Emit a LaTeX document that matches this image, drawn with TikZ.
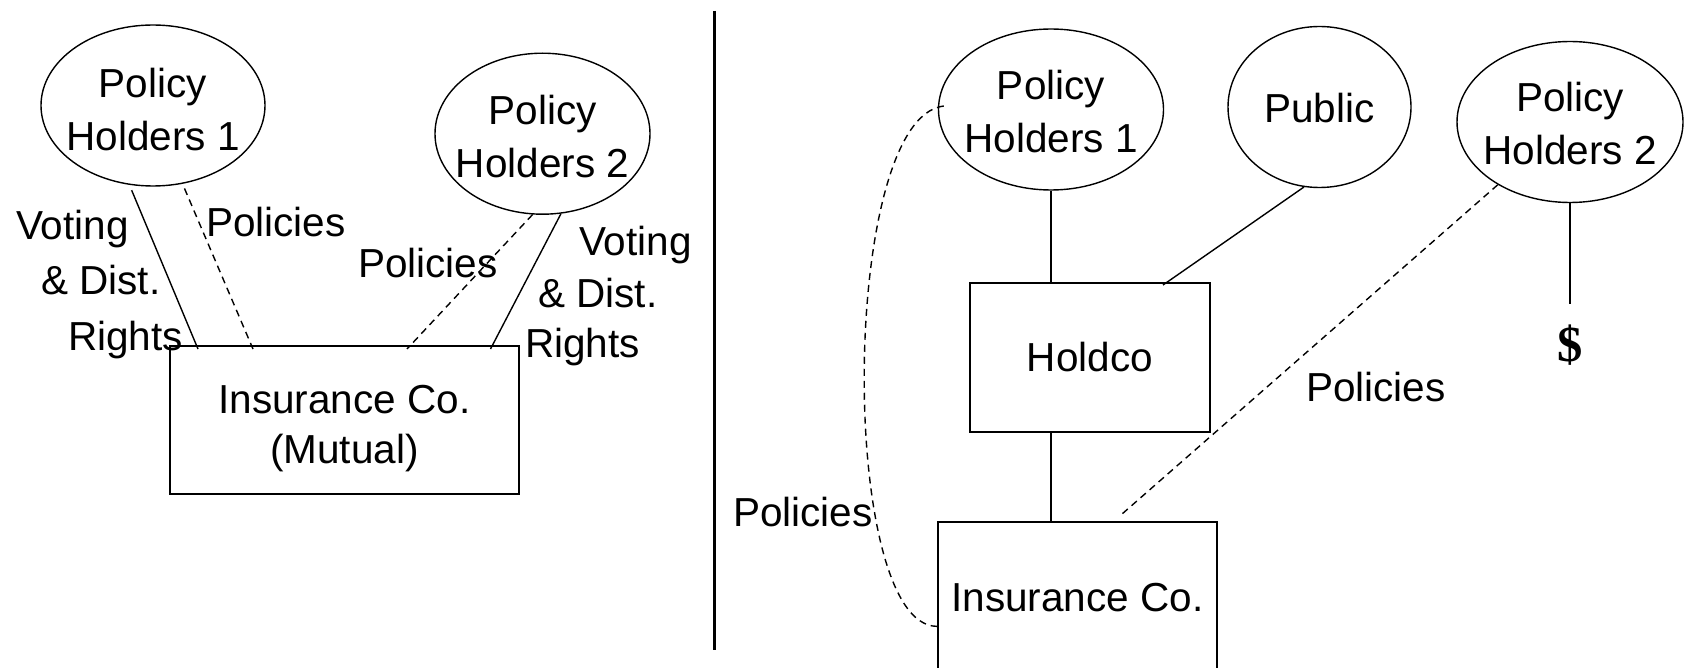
\documentclass[tikz,border=0pt]{standalone}
\usepackage{fontspec}
\setmainfont{Liberation Sans}
\newfontfamily\dollarfont{Liberation Serif}
\usetikzlibrary{shapes.geometric}
% invisible strut that gives the first line extra height, lowering a centred block
\newcommand\headroom[1]{\rule{0pt}{#1}}

\begin{document}
\begin{tikzpicture}[x=1pt,y=-1pt,
  every node/.style={font=\fontsize{40.5}{53}\selectfont},
  party/.style={draw, ellipse, line width=1.4pt, inner xsep=-12pt, inner ysep=0pt, align=center},
  firm/.style={draw, rectangle, line width=2pt, inner sep=0pt, align=center},
  tie/.style={line width=1.4pt},
  policy/.style={line width=1.4pt, dash pattern=on 7pt off 5pt},
  lbl/.style={anchor=base west, inner sep=0pt},
]
\useasboundingbox (0,0) rectangle (1684,668);

% ---------- mutual company ----------
\node[party, minimum width=224pt, minimum height=161pt] (ph1L) at (153,105.5) {\headroom{38pt}Policy\\Holders 1};
\node[party, minimum width=215pt, minimum height=161pt] (ph2L) at (542.5,133.7) {\headroom{35.5pt}Policy\\Holders 2};
\node[firm, minimum width=349pt, minimum height=148pt, font=\fontsize{40.5}{50}\selectfont] (mutual) at (344.5,420) {\headroom{45pt}Insurance Co.\\(Mutual)};

\draw[tie]    ([yshift=-5pt]ph1L.255) -- ([xshift=29pt,yshift=-4pt]mutual.north west);
\draw[policy] ([yshift=-5pt]ph1L.292) -- ([xshift=84pt,yshift=-4pt]mutual.north west);
\draw[policy] (ph2L.263) -- ([xshift=238pt,yshift=-4pt]mutual.north west);
\draw[tie]    (ph2L.283) -- ([xshift=321.5pt,yshift=-4pt]mutual.north west);

\node[lbl] (v1) at (16,240) {Voting};
\node[lbl] (v2) at (41,295) {\& Dist.};
\node[lbl] (v3) at (68,350) {Rights};
\node[lbl] (p1) at (206,237) {Policies};
\node[lbl] (p2) at (358,278) {Policies};
\node[lbl] (w1) at (579,256) {Voting};
\node[lbl] (w2) at (538,308) {\& Dist.};
\node[lbl] (w3) at (525,357) {Rights};

% ---------- divider ----------
\draw[line width=3pt] (714,11) -- (714,650);

% ---------- holding company structure ----------
\node[party, minimum width=225pt, minimum height=161pt] (ph1R) at (1051,109.5) {\headroom{33pt}Policy\\Holders 1};
\node[party, minimum width=183pt, minimum height=161pt] (pub) at (1319.5,107) {\headroom{31pt}Public};
\node[party, minimum width=226pt, minimum height=161pt] (ph2R) at (1570,122) {\headroom{33pt}Policy\\Holders 2};
\node[firm, minimum width=240pt, minimum height=149pt] (holdco) at (1090,357.5) {Holdco};
\node[firm, minimum width=279.5pt, minimum height=152pt] (ins) at (1077.5,598) {Insurance Co.};
\node[anchor=base, inner sep=0pt, font=\dollarfont\bfseries\fontsize{50.6}{60}\selectfont] (dollar) at (1570,361) {\$};

\draw[tie] (ph1R.south) -- (ph1R.south |- holdco.north);
\draw[tie] (pub.259) -- ([xshift=194pt,yshift=-3pt]holdco.north west);
\draw[tie] (ph1R.south |- holdco.south) -- (ph1R.south |- ins.north);
\draw[policy] (ph2R.221) -- ([xshift=183pt,yshift=5pt]ins.north west);
\draw[tie] (ph2R.south) -- ([yshift=20pt]dollar.north);
\draw[policy] ([xshift=6pt,yshift=3.5pt]ph1R.west) .. controls (838,118) and (838,642) .. ([xshift=5pt,yshift=-28pt]ins.west);

\node[lbl] (p3) at (1306,401) {Policies};
\node[lbl] (p4) at (733,526) {Policies};
\end{tikzpicture}
\end{document}
